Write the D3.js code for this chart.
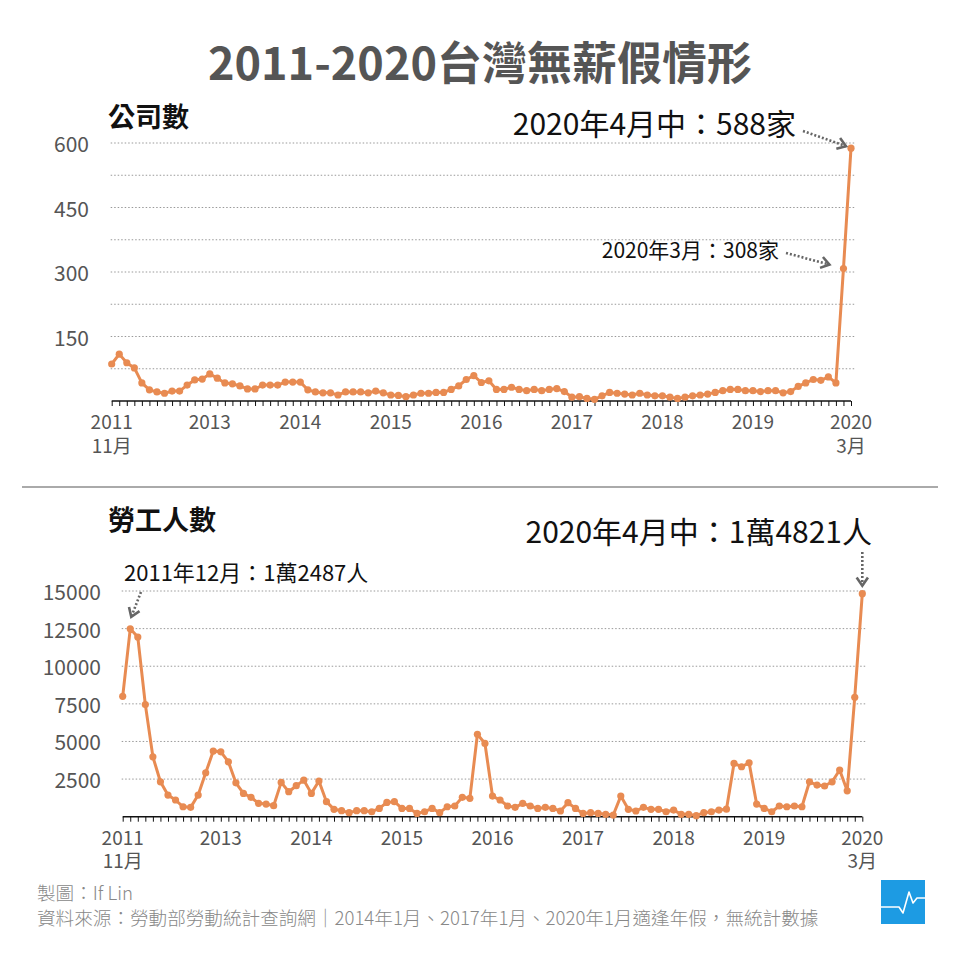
<!DOCTYPE html>
<html>
<head>
<meta charset="utf-8">
<script src="https://cdn.jsdelivr.net/npm/d3@7"></script>
<style>
  html, body { margin: 0; padding: 0; background: #fff; }
  svg { display: block; font-family: "Noto Sans CJK TC", "Noto Sans", sans-serif; }
</style>
</head>
<body>
<svg id="chart" width="960" height="960"></svg>
<script>
// ---------- DATA ----------
const title = "2011-2020台灣無薪假情形";
const missingMonths = ["2014-01", "2017-01", "2020-01"];
// categories: 2011-11 .. 2020-03 monthly (skipping missing months), then 2020-04 mid
const categories = (function () {
  const out = [];
  for (let y = 2011; y <= 2020; y++) {
    for (let m = 1; m <= 12; m++) {
      if (y === 2011 && m < 11) continue;
      if (y === 2020 && m > 3) continue;
      const key = y + "-" + String(m).padStart(2, "0");
      if (missingMonths.includes(key)) continue;
      out.push(key);
    }
  }
  out.push("2020-04中");
  return out;
})();

const companies = [
  86,109,89,77,42,26,21,18,23,23,37,49,51,63,53,42,40,35,28,28,
  37,37,37,44,44,44,26,21,19,19,14,21,21,21,19,23,19,14,13,
  10,14,18,18,20,20,27,35,50,59,43,47,27,27,32,27,24,27,24,27,29,22,
  9,10,6,4,12,20,18,16,14,18,14,
  12,12,9,6,9,12,14,16,20,24,27,27,24,24,22,24,24,19,22,34,42,50,48,56,42,308,588
];
const workers = [
  8000,12487,11940,7450,3980,2320,1440,1110,660,620,1440,2920,4360,4310,3650,2250,1550,1290,890,840,
  730,2280,1660,2060,2430,1550,2370,1000,490,400,270,400,400,330,550,950,1000,550,550,220,
  330,550,270,660,710,1290,1220,5480,4870,1370,1110,710,620,890,710,550,620,550,380,930,
  550,220,270,220,160,110,1370,490,380,620,490,490,330,440,160,160,70,270,330,440,
  500,3540,3320,3580,840,550,330,710,660,710,660,2320,2100,2040,2320,3100,1720,7940,14821
];

const topTicks = [150, 300, 450, 600];
const topGrid = [75, 150, 225, 300, 375, 450, 525, 600];
const botTicks = [2500, 5000, 7500, 10000, 12500, 15000];
const xLabelCats = ["2011-11","2012-12","2013-12","2015-01","2016-01","2017-02","2018-02","2019-02","2020-04中"];
const xLabelText = [["2011","11月"],["2013"],["2014"],["2015"],["2016"],["2017"],["2018"],["2019"],["2020","3月"]];

const topTitle = "公司數";
const botTitle = "勞工人數";
const ann = {
  topLast: "2020年4月中：588家",
  topPrev: "2020年3月：308家",
  botLast: "2020年4月中：1萬4821人",
  botFirst: "2011年12月：1萬2487人"
};
const credit = "製圖：If Lin";
const source = "資料來源：勞動部勞動統計查詢網｜2014年1月、2017年1月、2020年1月適逢年假，無統計數據";

// ---------- DRAW ----------
const svg = d3.select("#chart");
const ORANGE = "#e88b52";
const GRAY = "#555";

svg.append("text").attr("x", 480).attr("y", 60)
  .attr("text-anchor", "middle").attr("dominant-baseline", "central")
  .attr("font-size", 45).attr("font-weight", 700).attr("fill", GRAY).text(title);

function drawArrow(g, x1, y1, x2, y2) {
  g.append("line").attr("x1", x1).attr("y1", y1).attr("x2", x2).attr("y2", y2)
    .attr("stroke", "#666").attr("stroke-width", 2.6).attr("stroke-dasharray", "2,2");
  const a = Math.atan2(y2 - y1, x2 - x1);
  const L = 10, w = 0.6;
  const p1 = [x2 - L * Math.cos(a - w), y2 - L * Math.sin(a - w)];
  const p2 = [x2 - L * Math.cos(a + w), y2 - L * Math.sin(a + w)];
  g.append("path").attr("d", `M${p1[0]},${p1[1]}L${x2},${y2}L${p2[0]},${p2[1]}`)
    .attr("fill", "none").attr("stroke", "#666").attr("stroke-width", 2.6)
    .attr("stroke-linejoin", "miter");
}

function panel(opts) {
  const g = svg.append("g");
  const x = d3.scalePoint().domain(categories).range([opts.x0, opts.x1]);
  const y = d3.scaleLinear().domain([0, opts.max]).range([opts.y0, opts.yTop]);

  g.selectAll(".grid").data(opts.grid).enter().append("line")
    .attr("x1", opts.x0 - 1).attr("x2", opts.x1 + 4)
    .attr("y1", d => y(d)).attr("y2", d => y(d))
    .attr("stroke", "#999").attr("stroke-width", 1).attr("stroke-dasharray", "1.5,2");

  g.selectAll(".yl").data(opts.ticks).enter().append("text")
    .attr("x", opts.labelX).attr("y", d => y(d))
    .attr("text-anchor", "end").attr("dominant-baseline", "central")
    .attr("font-size", opts.yFont).attr("fill", GRAY).text(d => d);

  const axis = d3.axisBottom(x).tickSize(5).tickFormat("").tickSizeOuter(0);
  const ax = g.append("g").attr("transform", `translate(0,${opts.y0})`).call(axis);
  ax.select(".domain").attr("stroke", "#111").attr("stroke-width", 1.6)
    .attr("d", `M${opts.x0},0H${opts.x1}`);
  ax.selectAll(".tick line").attr("stroke", "#111").attr("stroke-width", 1);

  xLabelCats.forEach((c, i) => {
    const t = g.append("text").attr("x", x(c)).attr("y", opts.y0 + 28)
      .attr("text-anchor", "middle")
      .attr("font-size", 19).attr("fill", GRAY);
    xLabelText[i].forEach((s, j) => {
      t.append("tspan").attr("x", x(c)).attr("dy", j === 0 ? 0 : 23.5).text(s);
    });
  });

  const line = d3.line().x((d, i) => x(categories[i])).y(d => y(d));
  g.append("path").datum(opts.values).attr("d", line)
    .attr("fill", "none").attr("stroke", ORANGE).attr("stroke-width", 3)
    .attr("stroke-linejoin", "round");
  g.selectAll(".pt").data(opts.values).enter().append("circle")
    .attr("cx", (d, i) => x(categories[i])).attr("cy", d => y(d))
    .attr("r", 3.6).attr("fill", ORANGE);

  g.append("text").attr("x", 108).attr("y", opts.titleY)
    .attr("dominant-baseline", "central").attr("font-size", 27).attr("font-weight", 700)
    .attr("fill", "#111").text(opts.title);
  return { g, x, y };
}

const topP = panel({
  x0: 111.7, x1: 851, y0: 401, yTop: 143, max: 600,
  grid: topGrid, ticks: topTicks, labelX: 89, yFont: 21,
  values: companies, title: topTitle, titleY: 115
});
const botP = panel({
  x0: 122.7, x1: 862.3, y0: 816.7, yTop: 591, max: 15000,
  grid: botTicks, ticks: botTicks, labelX: 101, yFont: 21,
  values: workers, title: botTitle, titleY: 518
});

svg.append("line").attr("x1", 22).attr("x2", 938).attr("y1", 487).attr("y2", 487)
  .attr("stroke", "#aaa").attr("stroke-width", 2);

const lastCat = categories[categories.length - 1];
const prevCat = categories[categories.length - 2];
const firstPeakCat = categories[1];

svg.append("text").attr("x", 796).attr("y", 122).attr("text-anchor", "end")
  .attr("dominant-baseline", "central").attr("font-size", 30).attr("fill", "#111").text(ann.topLast);
{
  const px = topP.x(lastCat), py = topP.y(companies[companies.length - 1]);
  drawArrow(svg, 803, 131, px - 5, py - 2);
}
svg.append("text").attr("x", 779).attr("y", 249).attr("text-anchor", "end")
  .attr("dominant-baseline", "central").attr("font-size", 21).attr("fill", "#111").text(ann.topPrev);
{
  const px = topP.x(prevCat), py = topP.y(companies[companies.length - 2]);
  drawArrow(svg, 786, 253, px - 14, py - 4);
}
svg.append("text").attr("x", 872).attr("y", 530).attr("text-anchor", "end")
  .attr("dominant-baseline", "central").attr("font-size", 30).attr("fill", "#111").text(ann.botLast);
{
  const px = botP.x(lastCat), py = botP.y(workers[workers.length - 1]);
  drawArrow(svg, px, 552, px, py - 8);
}
svg.append("text").attr("x", 124).attr("y", 571)
  .attr("dominant-baseline", "central").attr("font-size", 22).attr("fill", "#111").text(ann.botFirst);
{
  const px = botP.x(firstPeakCat), py = botP.y(workers[1]);
  drawArrow(svg, 141, 592, px + 1, py - 12);
}

svg.append("text").attr("x", 37).attr("y", 891).attr("dominant-baseline", "central")
  .attr("font-size", 18.6).attr("font-weight", 300).attr("fill", "#888").text(credit);
svg.append("text").attr("x", 37).attr("y", 916).attr("dominant-baseline", "central")
  .attr("font-size", 18.6).attr("font-weight", 300).attr("fill", "#888").text(source);

svg.append("rect").attr("x", 881).attr("y", 880).attr("width", 44).attr("height", 44).attr("fill", "#1d9be3");
svg.append("path").attr("d", "M881,907L899,907L903,913L909,892L913,903L917,898L925,898")
  .attr("fill", "none").attr("stroke", "#fff").attr("stroke-width", 1.6).attr("stroke-linejoin", "round");
</script>
</body>
</html>
